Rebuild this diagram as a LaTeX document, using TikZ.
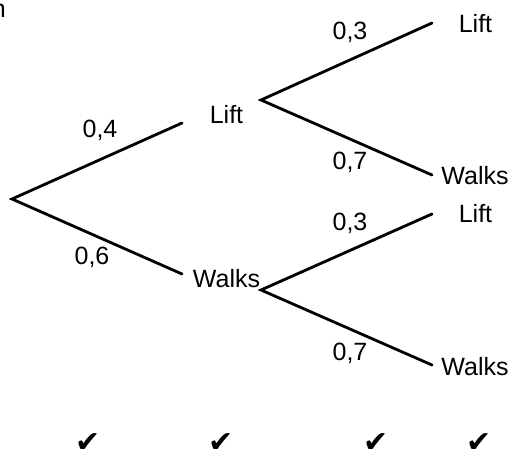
\documentclass[tikz,border=0pt]{standalone}
\usepackage{fontspec}
\setmainfont{Liberation Sans}
\newfontfamily\symfont{DejaVu Sans}
\usetikzlibrary{positioning}

\begin{document}
\begin{tikzpicture}[x=1pt, y=-1pt,
    branch/.style={line width=2.8pt, line cap=round},
    outcome/.style={inner sep=0pt, anchor=base, font=\fontsize{25}{30}\selectfont},
    prob/.style={inner sep=0pt, anchor=base, font=\fontsize{25}{30}\selectfont},
    tick/.style={inner sep=0pt, anchor=base, font=\symfont\fontsize{30}{34}\selectfont}]
      \useasboundingbox (0,0) rectangle (514,449);
      % branch points
      \coordinate (root) at (12,199);
      \coordinate (liftA) at (182,123);
      \coordinate (walkA) at (182,274);
      \coordinate (liftS) at (261,100);
      \coordinate (walkS) at (261,290);
      \coordinate (liftLL) at (432,23);
      \coordinate (liftLW) at (432,175);
      \coordinate (walkWL) at (432,214);
      \coordinate (walkWW) at (432,365);
      \draw[branch] (liftA) -- (root) -- (walkA);
      \draw[branch] (liftLL) -- (liftS) -- (liftLW);
      \draw[branch] (walkWL) -- (walkS) -- (walkWW);
      % outcomes
      \node[outcome] (lift1) at (226.5,123.5) {Lift};
      \node[outcome] (walks1) at (226.5,287) {Walks};
      \node[outcome] (lift11) at (475.5,33) {Lift};
      \node[outcome] (walks12) at (475,185) {Walks};
      \node[outcome] (lift21) at (475.5,223) {Lift};
      \node[outcome] (walks22) at (475,375) {Walks};
      % probabilities
      \node[prob] (pA) at (100,138) {0,4};
      \node[prob] (pB) at (92,265) {0,6};
      \node[prob] (pC) at (350,40) {0,3};
      \node[prob] (pD) at (350,170) {0,7};
      \node[prob] (pE) at (350,230) {0,3};
      \node[prob] (pF) at (350,360) {0,7};
      % marks
      \node[tick] (t1) at (88,452) {✔};
      \node[tick] (t2) at (221,452) {✔};
      \node[tick] (t3) at (376,452) {✔};
      \node[tick] (t4) at (479,452) {✔};
      \node[outcome, anchor=base east] (cut) at (6,18) {n};
\end{tikzpicture}
\end{document}
